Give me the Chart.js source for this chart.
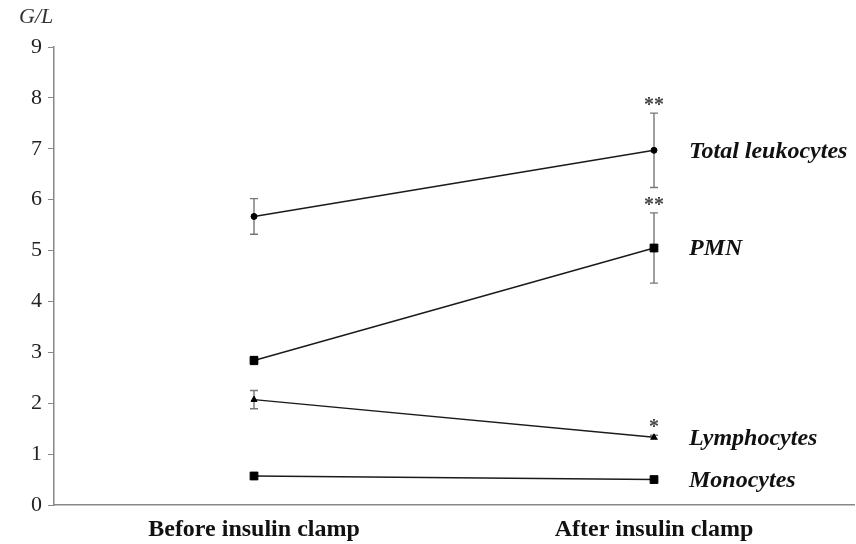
<!DOCTYPE html>
<html>
<head>
<meta charset="utf-8">
<script src="https://cdn.jsdelivr.net/npm/chart.js@4.4.1/dist/chart.umd.min.js"></script>
<style>
html,body{margin:0;padding:0;background:#fff;}
#wrap{width:856px;height:544px;position:relative;}
</style>
</head>
<body>
<div id="wrap"><canvas id="c" width="856" height="544"></canvas></div>
<script>
// ---- data ----
const categories = ['Before insulin clamp', 'After insulin clamp'];
const yTicks = [0, 1, 2, 3, 4, 5, 6, 7, 8, 9];
const seriesNames = ['Total leukocytes', 'PMN', 'Lymphocytes', 'Monocytes'];
const totalLeukocytes = [5.67, 6.97];
const totalErr = [0.35, 0.73];
const pmn = [2.84, 5.05];
const pmnErr = [0.08, 0.69];
const lymphocytes = [2.07, 1.33];
const lymphErr = [0.18, 0.04];
const monocytes = [0.57, 0.50];
const monoErr = [0, 0];
const totalSig = ['', '**'];
const pmnSig = ['', '**'];
const lymphSig = ['', '*'];
const monoSig = ['', ''];
const unitLabel = 'G/L';

const SERIF = '"Liberation Serif", "Times New Roman", serif';

const errors = [totalErr, pmnErr, lymphErr, monoErr];
const sigs = [totalSig, pmnSig, lymphSig, monoSig];

const annotPlugin = {
  id: 'annot',
  beforeDatasetsDraw(chart) {
    const ctx = chart.ctx;
    const xs = chart.scales.x, ys = chart.scales.y;
    ctx.save();
    chart.data.datasets.forEach((ds, i) => {
      const err = errors[i];
      ds.data.forEach((v, j) => {
        const x = xs.getPixelForValue(j);
        const e = err[j];
        if (e <= 0) return;
        const yt = ys.getPixelForValue(v + e);
        const yb = ys.getPixelForValue(v - e);
        ctx.strokeStyle = '#777';
        ctx.lineWidth = 1.4;
        ctx.beginPath();
        ctx.moveTo(x, yt); ctx.lineTo(x, yb);
        ctx.moveTo(x - 4, yt); ctx.lineTo(x + 4, yt);
        ctx.moveTo(x - 4, yb); ctx.lineTo(x + 4, yb);
        ctx.stroke();
      });
    });
    ctx.restore();
  },
  afterDatasetsDraw(chart) {
    const ctx = chart.ctx;
    const xs = chart.scales.x, ys = chart.scales.y;
    ctx.save();
    chart.data.datasets.forEach((ds, i) => {
      const err = errors[i];
      ds.data.forEach((v, j) => {
        const s = sigs[i][j];
        if (!s) return;
        const x = xs.getPixelForValue(j);
        const yt = ys.getPixelForValue(v + err[j]);
        ctx.fillStyle = '#444';
        ctx.font = 'bold 20px ' + SERIF;
        ctx.textAlign = 'center';
        ctx.textBaseline = 'middle';
        ctx.fillText(s, x, yt - 7);
      });
      const last = ds.data.length - 1;
      ctx.fillStyle = '#111';
      ctx.font = 'italic bold 24px ' + SERIF;
      ctx.textAlign = 'left';
      ctx.textBaseline = 'middle';
      ctx.fillText(ds.label, xs.getPixelForValue(last) + 35, ys.getPixelForValue(ds.data[last]) + 1);
    });
    ctx.fillStyle = '#333';
    ctx.font = 'italic 22px ' + SERIF;
    ctx.textAlign = 'left';
    ctx.textBaseline = 'middle';
    ctx.fillText(unitLabel, 19, 17);
    ctx.restore();
  }
};

const lineColor = '#1a1a1a';
function ds(label, data, style, radius) {
  return {
    label, data,
    borderColor: lineColor, borderWidth: 1.4,
    backgroundColor: '#000', pointBackgroundColor: '#000', pointBorderColor: '#000',
    pointStyle: style, pointRadius: radius, pointBorderWidth: 1,
    tension: 0, fill: false
  };
}

new Chart(document.getElementById('c'), {
  type: 'line',
  data: {
    labels: categories,
    datasets: [
      ds(seriesNames[0], totalLeukocytes, 'circle', 3),
      ds(seriesNames[1], pmn, 'rect', 5.5),
      ds(seriesNames[2], lymphocytes, 'triangle', 3.5),
      ds(seriesNames[3], monocytes, 'rect', 5.5)
    ]
  },
  options: {
    responsive: false,
    animation: false,
    devicePixelRatio: 1,
    layout: { autoPadding: false, padding: { top: 47, right: 2, left: 0, bottom: 0 } },
    plugins: { legend: { display: false }, tooltip: { enabled: false }, title: { display: false } },
    scales: {
      x: {
        type: 'category',
        offset: true,
        grid: { display: true, drawOnChartArea: false, drawTicks: false, offset: true },
        border: { display: true, color: '#888', width: 1.5 },
        ticks: { color: '#111', font: { family: SERIF, size: 24, weight: 'bold' }, padding: 10, maxRotation: 0 },
        afterFit(s) { s.height = 39; s.paddingLeft = 0; s.paddingRight = 0; }
      },
      y: {
        min: 0, max: 9,
        afterBuildTicks(s) { s.ticks = yTicks.map(v => ({ value: v })); },
        grid: { display: true, drawOnChartArea: false, drawTicks: true, tickLength: 6, color: '#888', tickWidth: 1 },
        border: { display: true, color: '#888', width: 1.5 },
        ticks: { color: '#222', font: { family: SERIF, size: 22 }, padding: 6 },
        afterFit(s) { s.width = 54; }
      }
    }
  },
  plugins: [annotPlugin]
});
</script>
</body>
</html>
